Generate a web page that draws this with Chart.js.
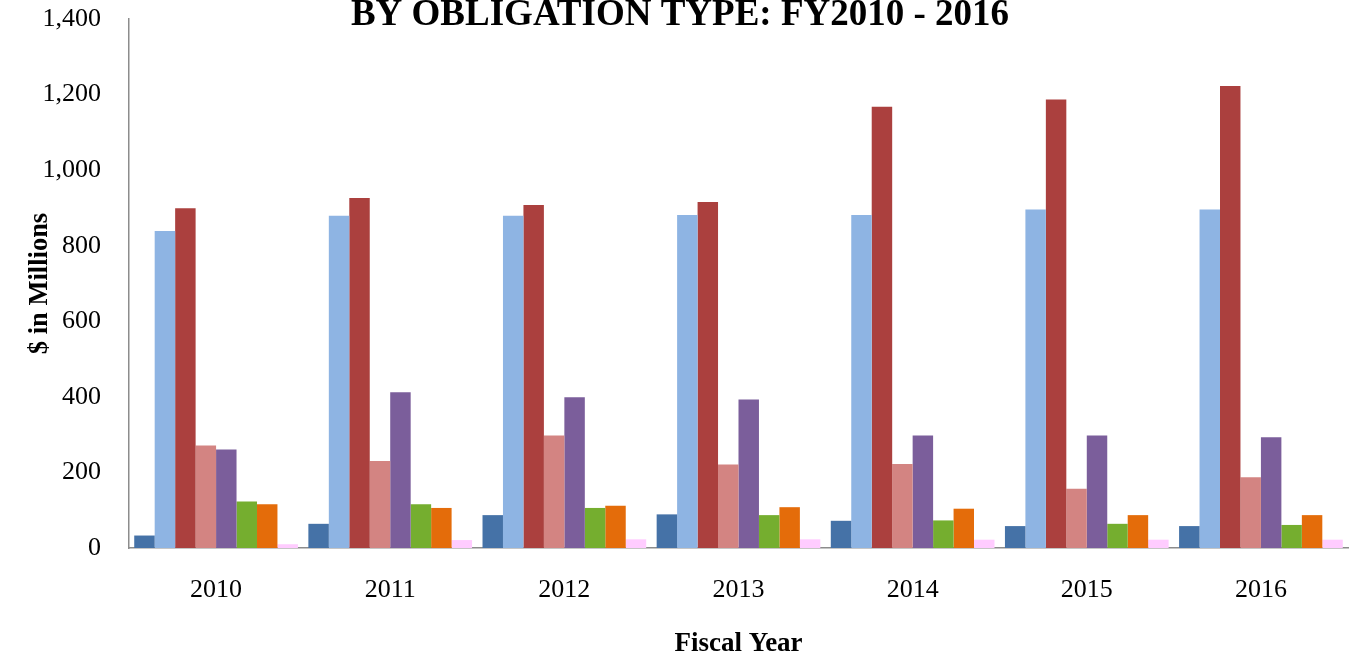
<!DOCTYPE html>
<html lang="en">
<head>
  <meta charset="UTF-8" />
  <title>Obligations by Type</title>
  <style>
    body {
      margin: 0;
      background: #fff;
    }
    .wrap {
      width: 1356px;
      height: 660px;
    }
  </style>
</head>
<body>
  <div class="wrap">
    <canvas id="obligChart" width="1356" height="660"></canvas>
  </div>

  <script src="https://cdn.jsdelivr.net/npm/chart.js"></script>
  <script>
    const years = ['2010', '2011', '2012', '2013', '2014', '2015', '2016'];
    const yTicks = [0, 200, 400, 600, 800, 1000, 1200, 1400];

    // $ in millions
    const type1 = [33, 64, 87, 89, 72, 58, 58];
    const type2 = [839, 879, 879, 881, 881, 896, 896];
    const type3 = [899, 926, 908, 916, 1168, 1187, 1223];
    const type4 = [271, 230, 298, 221, 222, 157, 187];
    const type5 = [261, 412, 399, 393, 298, 298, 293];
    const type6 = [123, 116, 106, 87, 73, 64, 61];
    const type7 = [116, 106, 112, 108, 104, 87, 87];
    const type8 = [10, 21, 23, 23, 22, 22, 22];

    const seriesNames = ['Type 1', 'Type 2', 'Type 3', 'Type 4', 'Type 5', 'Type 6', 'Type 7', 'Type 8'];
    const seriesData = [type1, type2, type3, type4, type5, type6, type7, type8];
    const seriesColors = ['#4572a7', '#8eb4e3', '#ab403e', '#d38482', '#7b5e9b', '#75ae2f', '#e46c0a', '#ffccff'];

    const serif = "'Liberation Serif', 'Times New Roman', serif";

    // title line sits at the very top and is partly cut off
    const topTitle = {
      id: 'topTitle',
      afterDraw(chart) {
        const c = chart.ctx;
        c.save();
        c.font = 'bold 37px ' + serif;
        c.fillStyle = '#000';
        c.textAlign = 'center';
        c.textBaseline = 'alphabetic';
        c.fillText('BY OBLIGATION TYPE: FY2010 - 2016', 680, 25);
        c.restore();
      }
    };

    const ctx = document.getElementById('obligChart').getContext('2d');
    new Chart(ctx, {
      type: 'bar',
      data: {
        labels: years,
        datasets: seriesData.map((d, i) => ({
          label: seriesNames[i],
          data: d,
          backgroundColor: seriesColors[i],
          borderWidth: 0,
          categoryPercentage: 0.94,
          barPercentage: 1.0
        }))
      },
      options: {
        responsive: false,
        animation: false,
        layout: { padding: { top: 19, right: 8, bottom: 0, left: 0 } },
        plugins: {
          legend: { display: false },
          tooltip: { enabled: false }
        },
        scales: {
          x: {
            grid: { display: false, drawTicks: false },
            border: { display: true, color: '#8c8c8c', width: 1.5 },
            ticks: {
              color: '#000',
              font: { family: serif, size: 26 },
              padding: 27
            },
            title: {
              display: true,
              text: 'Fiscal Year',
              color: '#000',
              font: { family: serif, size: 27, weight: 'bold' },
              padding: { top: 0, bottom: 0 }
            },
            afterFit(scale) { scale.height = 112; }
          },
          y: {
            min: 0,
            max: 1400,
            afterBuildTicks(scale) {
              scale.ticks = yTicks.map(v => ({ value: v }));
            },
            // invisible tick marks give the gap between labels and axis
            grid: { display: false, drawTicks: true, tickLength: 25 },
            border: { display: true, color: '#8c8c8c', width: 1.5 },
            ticks: {
              color: '#000',
              font: { family: serif, size: 26 },
              padding: 3,
              callback: v => v.toLocaleString('en-US')
            },
            title: {
              display: true,
              text: '$ in Millions',
              color: '#000',
              font: { family: serif, size: 26.5, weight: 'bold' },
              padding: { top: 24, bottom: 0 }
            },
            afterFit(scale) { scale.width = 129; }
          }
        }
      },
      plugins: [topTitle]
    });
  </script>
</body>
</html>
